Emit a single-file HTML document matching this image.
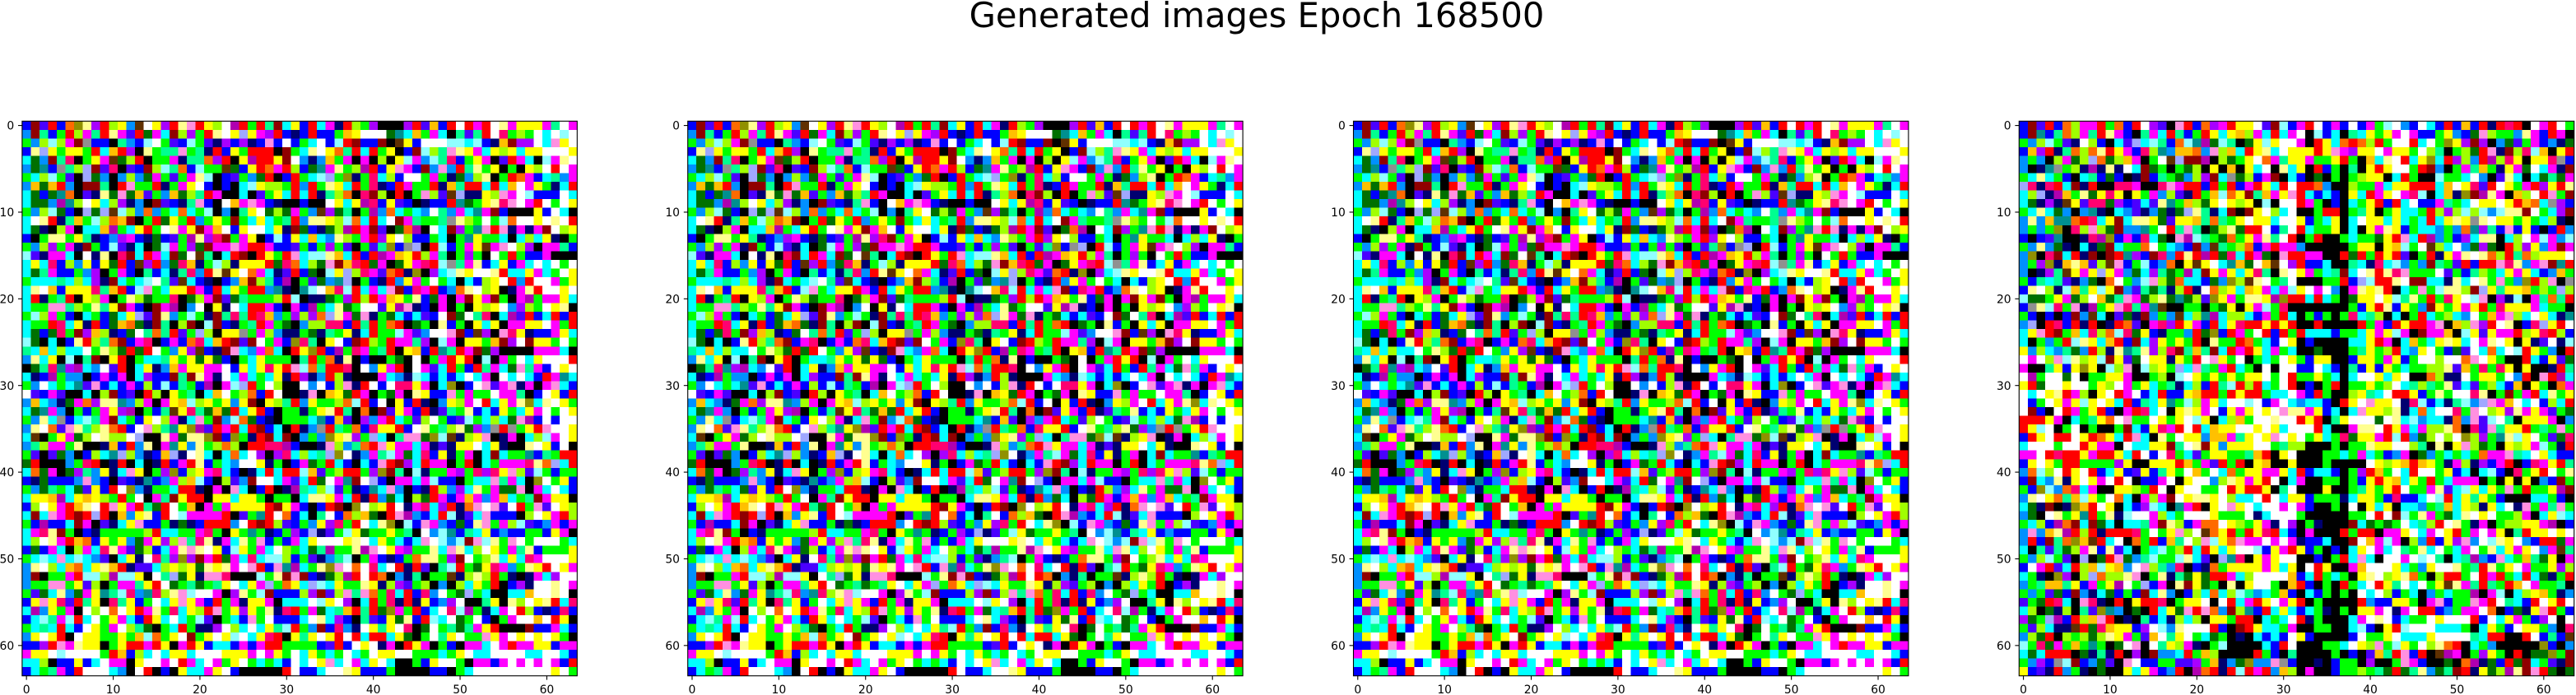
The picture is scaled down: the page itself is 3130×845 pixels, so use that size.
<!DOCTYPE html>
<html lang="en">
<head>
<meta charset="utf-8">
<title>Generated images Epoch 168500</title>
<style>
html,body{margin:0;padding:0;background:#fff;}
svg{display:block;}
text{font-family:"DejaVu Sans","Liberation Sans",sans-serif;fill:#000;}
</style>
</head>
<body>
<svg id="figure" xmlns="http://www.w3.org/2000/svg" width="3130" height="845" viewBox="0 0 3130 845">
<rect x="0" y="0" width="3130" height="845" fill="#ffffff"/>
<text x="1527" y="33" font-size="41.67" text-anchor="middle">Generated images Epoch 168500</text>
</svg>
<script>
const tickValues = [0, 10, 20, 30, 40, 50, 60];
const imageA = [
"bdvrbozlprjysNwyprlaryjwurgrtdcybrcmnrjgpkkkprvObrwrmrwlmyyymtwm",
"sdtbgrjmtrlmvremcdjpgrlwyPymprbnbrbbgOywwwexcOgmcktvtrwqgjgwcwiw",
"gsjijmdhbbktsbiwgvbigvnpbpnbabwbgcwbirdbbdkNybwwwiicibnOdppwcayw",
"blPygyygrcOrpklgttagtnrbygrrrkdgclwyotrcrgykbdijtalymcyjycyywwwy",
"cesdtqkgymNejrkggmnttoprkyurrydwsnsOgmkmkjkyimsitqbgymkvrmckimlw",
"sexbhtjPdvqkvbdjitobiggNebyromrjbexmlgjurbyambdsasrtlgykgkyjwrwm",
"gcjigvkPesksjsemgvgmlikbvgserkbrgciPgzngqcjbwwgmgnesjlkgrombctsm",
"sOeOrskddtkraggrngmywbkbkciyjjgrsrglycrgqnbrmggrnOtrrcrcOwmygncr",
"cebexokvnleaeOvgsOejtrmkkckvgycrcrntjokqdjkrkgajvNPnnyjamwibbbwc",
"ceesuxjwycjpnskdvbntabkwOmambnkkbkkwycyuqbyvbknbbrxegylqawmrwgwy",
"gsjiebkPePNijsosgcocgiksktywejemgsNpetkgusocgcswtsmcxmdbkkkybwck",
"cwlrntOgijoOdkgreygrsgygdgcycgtrsllyjiocrcwdmtggthljgwgiowwywlwr",
"cenkjmkccOugcyrgwlmydmOwbywwcyndebnejurmdvkeoukwcdpgxaranmnmdwjy",
"bkgllgytnbspmbnebvgulpqdgmykbibycOcsljgmrpywjbbgckgxyggckcjcynkg",
"gsjpgmndgbivnckeimgpedmmamrrmbbvgbgpgvkgvtzbhPkribgmyNmawjpkmmtb",
"ivnmmckwnlkqdcrmcdewNtkcrdkrygraciilOcrbrumOyrjmtkgpgkwgrgbbmkkk",
"cycqbjsybyerbNprseqOngijnyyyreqocjeadOqremkeymqrihtmlbcybmcwcwgw",
"cetmbbgspkgmbktbcntqsrlNywomcnvrbekiyPjqmvornzkpcilywwlrccymcgwy",
"gccctcjcpndcgciwtvNcbnkbsOdjtbukgvesxPkgbnrsymgwgckcbjywrsrwwmgy",
"clwObyyyqtOrbiagcyyrmbrcygrrsxnkxiwOqircmcadbqmrbsolwjyknmlrwwyw",
"crngtrkyjmkgljeggqkejmdvetgggjriknnegprjrmOyglbemkmdymdgkmugmmyc",
"cggaatjgltydmbkdmukswkynwcrrmbkmbugclegwwvyuanbkmkgkyjywspjgwylk",
"gijmgbkcgbecyPvdlsgigndtqtrqOsgpjpoPlmeangecbcvbwdewtqkcuvrbcrbr",
"cggrqcynrbeOoendtkjdkidbngtrmgeksjjqqbrtrgorkegklbgkycykmmyywmgr",
"cebeqgdpOjnbewtotrvgPjkyyhgmjsnngentgyncrggimvswwadbNpkaqynbbmyc",
"iekckblrjtodbmqkbmboqcOrdvdwgmbzqtkywbdrjgrmmtpkimkyygOdpwdyygwg",
"tcOcjccwgljererwgsypNbndacsmockryzrbugqmgtrkyObrxtrmdepkkkkmmmck",
"slcykiktdkyrkgcctygyeyebkgcygggktrgonlkbkkgekwkgmryrkikmgwcywwwr",
"ketqxpucswvrkcynsOmyymmwbycyqyraiotrrqkwsymrkwmvcrgbrtmceatmbwyw",
"cnbugsskbmbmkcpbbdtdlmnwcmcgcynrpnsrjnkkkmcsnicbcbcwcmkwcwcbrmxc",
"gswcgcxvabcbmbjbibtgbukmiPrgwjkkwswbjanrwbwqqymkczkbwavmanmkmacb",
"wvbmvkkckjdbvkrjkygtkcOwgjobrwkknakOyermkgemklybbagmggwmmtkbwybr",
"sOcsnemopllxsjmkmyOijygysydkyjtrsyggjoirbwkybrnksyjmwrcymlzclwyg",
"cexmskgbgmypukgbtNyqteOercyrbkggngylrtkokdvymbrnvtglbcbygcymwgwy",
"gslchbcitmdcgbywjmncagdsioebnkgggcxbOvkpsmrcgvjwgbvigcjceaubwbww",
"slwovaltjlorbwajtxyzuvrmrcrdbckrnshrtgobqyyrbwlgtjlepshrhgyrawwy",
"cNkgymejwljjwPkklmellzdbzgnrdcdksgszylpgPcktaaeziNnjyaknmkcjimwy",
"stjmmglkknObrslkmxyslgjojkrrqqubkknajstoraymmcmnvnyywcynkklwybwk",
"gvkveskbjcxPjsnbOPnwlckcocwpkpqcjctPzwnsmtimecqbyngmkcdcggxbtgrr",
"erkkksgqrknrkcknrbmrlbgcswwyngkbmegrcbkcbardpcrmmkgrkcgmmmqloPcr",
"coemkeptsyncaykgpzbjymqcbkncrcrriOvgjrrgpzdtkinggmpgqpqyajvigbgg",
"bnebbbsasbkvbnxbsmjOibkjvsdwwcmvcrewmxdwPbkmmcmibbkgccatmckzwgyb",
"gsetgcevybrwzsnggcrrnkmkackbrknutcjivgnbxcaskbnrjspclgmeeakmcwcb",
"cyyOucyOyjgrgwkmtdyrrkyycyygkggkcllymcrnrseckjermbmOmsmOcgtdmyyk",
"bjwymrOlwraymrterwgOkmgmyyyyrdymbkbrdkzwjyrwnmqcprnoawavwrgavwyj",
"cdcamrdrPrkOsylbrwimmmmrkvgxrwobcktwbojOekrausbcrinvcabbbkjwymrj",
"gbubbcdmkvncyabbgnenbrrrswrdrjvbgsypqgrwclzkibamsbeblagmjivbsmbm",
"cmqldgkbngggggjrccggmqgkygxgnbgpbPnvgiyeggygtkwsixbtcybsbbggbymk",
"cjwlmrOobygysemypjatqlnmclgabgbmcywwwylwcygcbcawisidailgawgwwwgc",
"bebmckjmcqlmvejbcmlalwybiygmcwjgcetuggluawympgglcalcjwygmtlbgggy",
"gcicacicsvkcynwqtpzpdmremcqciijbgvnstikgmbnbgollgpdwgjlcycqmwwwy",
"slwjcOocylOrnvvcjyjyelylmwarbaxucglzawowqcwrnrvktirgeyqmsglyrwym",
"sdkggmriijuiiykwtPeynaaqkkkigldadbnejurwroksntkggNnjljrgnknmcpww",
"sggaagyvjkgmmtyrwegtegtywcymPgoycPicygglynjpvgjkskjcygrkbpnwwlwm",
"gveclsemyxtiqsxqjlaiwwmkplgidbbbjpdvjataogqcrbqswgePgckkccOwwlwk",
"byayqvrtykqtybgwcyaymbrgmnyymkcccwiywpkcrgqnrnybspwkktykljwylrcq",
"cusygmkwjwowyrmlgqcyjragypyglnqrgmectOrtrezmgrbcwqiugncmwrjbnbqb",
"bcitmircwgymcbrycwcgivkgcbagwbbbcwlcpbktvbyelbricwegwbkgmwwOwryk",
"gctcrcbwygmwjtekgcrgnnpwjcwcytirgsdbqsnwytywqkewgtetmyrkkkdbbmcb",
"sywyrkwyyggygOiogywdgywyiwcyqrkytywyrwrcrrcyekgwtywggaymwywywygk",
"bbpramlyykgyrrmrykmrybccbmbmrrggggbvrbwywnmkrymkgbkmmcwmrmmyybmm",
"myywiwwwwgrObjcwcyycwwwyyymwmygwcygcgwcgwyywwgggcgywccwwwwccwwcb",
"ccjkbbybcwmmkywwmwrmcwmgywgcgcbwcwyacwmcywckkgbywwgkmmbmwmwmwmbr",
"bcgtmbrwwwcskwrkbkyccmywbkkkkkrwbbcwwlybbbgkkkkbbkgcwwwwwwwwwywg"
];
const imageB = [
"bdvrbojmmrgobrwpvkarbopmryywvdibmrwbmbwbmgiwsbwcbrbObrnrqrkwmrwg",
"bdxbtojmtrlmbktmcrtbgrycyOjmcrcmwkibcktcygymwmbbgysbeajggslmbrmk",
"gsjigvnwjbkcvPcitboixueitkeyiywwmkrycorojrgwwrcwgzypdpksevgmbsne",
"bOprntojolrymbqjxsOOosajOcrylcwyyyryampyywmyygwjtkgjerandjqiOkyr",
"sgskjmejPoejOmkgwNPddukjegywomtyymggyrgkOclwrcyzcrpjsrujqykyyqhb",
"sknxhgjnunlnwcdegkgejkykOkycwklcykrbgktkyrywwgrdskgmtOgnymewcmnd",
"gclcgbkctbebkndbtgesjpdchejbmdkcbkekgkgjyykcrgkkiggcwskvlckcetem",
"PqnqrcdnrkkqqmkkqamrrbrgrbmrycrwrroskkjggmcyyrrrcOwyqvrwygmrpyrl",
"cjPnuOgleyqykygmsjvnrgOioydtOmyarcbcbkycrmywmqikcOnzdulmkOjwragd",
"cenpnNyvqqepbvcvlxgOjeywyjykikwwrmgkbkcgyrbrcwbbmtgcwyywyrOochpb",
"gclcesksxnkcsvnsenePltncdkdywjcwkkgrrkgtykgyccgrjpjijisilldwgcpd",
"slsOxxorqcydcllyevyyOtotgywyycwwybgcykcwyycycgcrcylyhlwyygygcjnk",
"sgsgzkqjajedssxgwrtatkejlerrwbtwrcggykckymlybgccsgsoxptbabybkbrs",
"bkbvxkknquzbmbqcekauitgeogymltwrkgrkkgcggeyracrusgbpcllkcjwmimsi",
"gslsenkcnedcggowgcsbdsNtgjobmrmmskkkkkgyykyOigwNjcwsepekrjpysmdm",
"szkqdcrndkdrxpbdqsrlrureqcrmekarrmmkkrergryrvkgrnymlwlojrtojyyyw",
"sgpznOlOvjNabgibsokyNywcxOewONwprbbckktcnqcisgsdtgvrbrraqlsmadxr",
"sknptNymyPymsecptegucdymycyqtklwymgctdcwlrlqagggwvgbtjgcymycbsOg",
"gbtctvnsekowgsiajeoccbeszjNlwgtwkkkggrbPirrlwddccnlcwlgagszrjakh",
"blwjniOtyiydsvtetnjrnwojycOymcmiywmwskmlylrkcgagilljdPytyyOgjgPj",
"ieegymejwOetamejlexejvzymgllyuzrrcrcgkeyywyitlgrgqywiakpnikmtotr",
"bhliqganugyaqtmxNkkggkgeykymigqkkkkkkkgbyrlbygsdygymyrgqyyymcggk",
"gbkbkbdsNckvendsgsNcjxucjjcbmgrckgbgkgqctjkckgrcgjcswgOmajcwycnx",
"sPkrqbrnrknrovkmqprymbrcyqrryryrkkrkkkkrgmbryrrmakOjaprwlkbqPyrw",
"cyardgOcqjoiqeybnggsrezbrmgwrbrgrcccbggcymyimkdmmOkiyvymmrjyqrjb",
"ckgsgrilycOrbdcpygygrklggrogcbwykbkkkkccyrmkcOgcylycwmlwykynvwni",
"ysjcstesrjnlxtlpjqdtOtdcrmrycmgckkekkkgtygjrcsywgbevwcocwirygskr",
"wmwjailjyidyvewyynygrwaygwkgcgwygbyykkbyygmybgwwjwwoawygkkrcbyve",
"mkktybyzykijakijygPcatgmrcgkwkwwbbwcbktbybygcggjjlvOgqgqykykknrt",
"wugwwewkggyymkkgjkiwygygygyywgwrggygckcwwycywkkojnnwgyygwsrkaruc",
"yrewwywwgyjwmgycgtncjbrtirjrcgwrkbkgrkggygjwctjtglvcvgjcbOkygkom",
"wcwylrmjkywrmwbcrbbyOrrgryrrgccwmbrgkkjytcwrrybglgwwqlkgdgmrclgy",
"wbgwymyiywycrbtcyxgijmycwwiwbmwcsccbkrywayywnqibcntisPamOwcwbjcr",
"wdbkwrmgyrbkmrqcwkylymwbymywywallmybckcayyjlncocwwqgawjyplmymvge",
"rrrymkcgtyowaggwygywiykcjOgwwlwwryrktywwwewlcisccnosaviwtkyyymks",
"ryiwkgwkgkkgdcbyqmrwrcOyywwywycwwwrckkmllwrymcmjjlokqvatyyrgtgag",
"brywrrwyroycracklgwyysOOmtywyawywgycgqeyymrirsejwjwzjpgxliywgveq",
"cwwwgwwrymmkwccyydtwldysyyywwgtjjkkkgkgglyywwjtklkyajegkyjymignr",
"mmwrqrrymrrycrwbwqgcvgyyggtOrkywkkkggcgmcgbsmkesgcgcgommatcwycbb",
"bywygrrggggpykkyyyrOgmvrgrkyOkkykkkgkkkkwyjyOrOygnmjnpbmrkbqmyrt",
"soijwrywrbcybvybtygwOgwcogyymmycrbccbkgprOgwcrwwgybckcibkqgyrwgl",
"bdcslnywymwrwkbbmwkywwsjlymyrwkcmkkggkgbyryOcygrgcmmmkgkykyksbdg",
"gbzisoqcmkkyyjgrwkywwggwryrryktwkkkykkgtygyrwggmlvciycygagrggyud",
"slwyotOiygwockmjmdwyllywjccwrwcyybgggncyygbqbbcwircytygbkkkccgbk",
"cendknzOrwykcbpickxmrkywaywcwwmwmbkkgkwkycykccsgtOcyjnycwnagmtag",
"sekwlgyxrglniwwmjcgwwwygggwncwwwgkkkkkggwrwdiglmgeclwywggjmkcyic",
"gcjbuodcdeckcctmdljbmoowyjgymnwpkgnkkkdcegegwctjrwlgnmkgjjyymukb",
"sasOlurjrnrrrqgwgyajwNoyrgryqrcbkmkkkrgrrkmmywcmwyrgmwmyktryywyw",
"srbdtozONrcwkogrbOtwjaiyoammwmwmnbbckkdwOmimkjsrbypaswilywsbrrem",
"cktvtejmlblvckgcigjrcrycywwibymrybgkbkcywmcwtglcwgcmwglcymywsmNt",
"gsjigvkPkeraestiggilcvkPxqkymywwkkbkgrcackwwmwiwtkctusbacgOteykm",
"bwmrvcrjOiyOswajtsqkbnogyyyymycykwrykkmOwwwycgsywwlgtrlgywmggypj",
"cgnkzpkjPojjlakglnteyerrmcjwwwwObcrgcgkylwjylogkjrrgwrmrgcrcengr",
"sgtOOtybmgyuwgPbmkldyegklkywwgkOrbkgkrgcwrytwcwgyNlmtrtgrOwmggtk",
"gsgvebdsncebgbdclskbjcocjitscgObkcbgkgkwcwjbgcksgcggukmikcjyOgns",
"vgerqckaqnkrkyrrqkgyywkwrcmrywmyrkgkkkkrsbbyygkmabggamrwtcbrwyrw",
"cjkenjktvzxskekrcyearaosdjxbrcycbcgnkgkyymwnmwrrbsgmmwokbenyargb",
"pegPubrjOarknktbcnjcjkyygrrkcgcwrngkkkcmwlwbcggwywwwrbwcymgbpwkw",
"gvjcnnNreqOyybpwislwwwrbkdryccgmkkggkkcibkyriwwwcccgkcygbwyygskq",
"sjerkjgjejlymgvOwtywgcegknkcbcbwybkkkkbwggywcccywwwwtcrrkkrwbtbN",
"igqemgOgxgkewakwtyjmnkgikkkkcbrwkkkggcwyjagiygwjlorkcgskkkkkzbks",
"cecrrrkentnrkpkdsscrgOjkkkkrgbktkkkkgkbkvOtrabrkNumkgpygkrkeezgd",
"gspbhidbsevkawbbggvvpgOnsezssahbkknkbggkpkkgambkkekounebredcgvnd",
"ybvnrsgnkekkycymbsrkuornrirmrsOjkmkkbggjgteretlsetdrnyejuldareke"
];
const panelImages = [imageA, imageA, imageA, imageB];

const colorKey = {
  k:"#000000", w:"#ffffff", r:"#ff0000", g:"#00ff00", b:"#0000ff", c:"#00ffff", m:"#ff00ff", y:"#ffff00",
  o:"#ff6a00", O:"#ffc000", p:"#a800ff", n:"#000070", d:"#900000", e:"#007000", t:"#00ff90", s:"#0090ff",
  v:"#4a00ff", l:"#ffff90", a:"#ff90e0", h:"#909090", i:"#90ffff", j:"#a0ff00", q:"#ff0070", u:"#b000b0",
  x:"#009090", z:"#909000", N:"#603000", P:"#a0a8ff"
};
const SVG_NS = "http://www.w3.org/2000/svg";
const svg = document.getElementById("figure");
const AXES_TOP = 147.3, AXES_SIZE = 674.4, FIRST_LEFT = 26.9, PANEL_STEP = 808.8, COLUMNS = 64;
const scale = AXES_SIZE / COLUMNS;

function axisX(left, value) { return left + (value + 0.5) * scale; }
function axisY(value) { return AXES_TOP + (value + 0.5) * scale; }

function make(tag, attrs, parent) {
  const el = document.createElementNS(SVG_NS, tag);
  for (const key in attrs) el.setAttribute(key, attrs[key]);
  parent.appendChild(el);
  return el;
}

panelImages.forEach(function (rows, panelIndex) {
  const left = FIRST_LEFT + panelIndex * PANEL_STEP;
  const group = make("g", {}, svg);
  
  

  const cells = make("g", {"shape-rendering": "crispEdges"}, group);
  
  
  rows.forEach(function (row, rowIndex) {
    for (let col = 0; col < row.length; col++) {
      const x0 = axisX(left, col - 0.5), x1 = axisX(left, col + 0.5);
      const y0 = axisY(rowIndex - 0.5), y1 = axisY(rowIndex + 0.5);
      const cell = make("rect", {x: x0.toFixed(2), y: y0.toFixed(2), width: (x1 - x0).toFixed(2), height: (y1 - y0).toFixed(2), fill: colorKey[row[col]] || "#ffffff"}, cells);
      
      
    }
  });

  const frame = make("rect", {x: left, y: AXES_TOP, width: AXES_SIZE, height: AXES_SIZE, fill: "none", stroke: "#000", "stroke-width": 1.1}, group);
  
  

  const bottom = AXES_TOP + AXES_SIZE;
  tickValues.forEach(function (value) {
    const tx = axisX(left, value);
    const xTick = make("line", {x1: tx, x2: tx, y1: bottom, y2: bottom + 4.9, stroke: "#000", "stroke-width": 1.1}, group);
    
    
    const xLabel = make("text", {x: tx, y: 843, "font-size": 13.89, "text-anchor": "middle"}, group);
    
    
    xLabel.textContent = String(value);

    const ty = axisY(value);
    const yTick = make("line", {x1: left - 4.9, x2: left, y1: ty, y2: ty, stroke: "#000", "stroke-width": 1.1}, group);
    
    
    const yLabel = make("text", {x: left - 9.7, y: ty + 5.1, "font-size": 13.89, "text-anchor": "end"}, group);
    
    
    yLabel.textContent = String(value);
  });
});
</script>
</body>
</html>
